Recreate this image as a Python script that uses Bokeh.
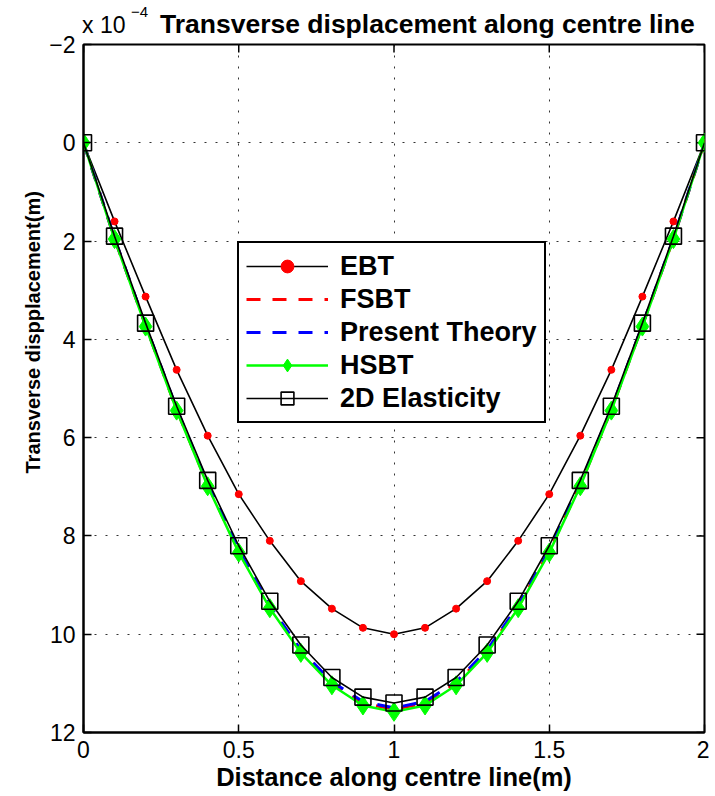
from bokeh.plotting import figure
from bokeh.models import (Range1d, FixedTicker, Legend, LegendItem, Title, Div)
from bokeh.layouts import column
from bokeh.embed import file_html
from bokeh.resources import INLINE
import math

x = [0.0, 0.1, 0.2, 0.3, 0.4, 0.5, 0.6, 0.7, 0.8, 0.9, 1.0,
     1.1, 1.2, 1.3, 1.4, 1.5, 1.6, 1.7, 1.8, 1.9, 2.0]
ebt = [0, 1.60, 3.13, 4.62, 5.96, 7.15, 8.10, 8.92, 9.48, 9.87, 10.00,
       9.87, 9.48, 8.92, 8.10, 7.15, 5.96, 4.62, 3.13, 1.60, 0]
fsbt = [0, 1.95, 3.72, 5.43, 6.96, 8.31, 9.44, 10.35, 11.00, 11.40, 11.53,
        11.40, 11.00, 10.35, 9.44, 8.31, 6.96, 5.43, 3.72, 1.95, 0]
present = [0, 1.94, 3.71, 5.41, 6.94, 8.29, 9.42, 10.32, 10.97, 11.37, 11.50,
           11.37, 10.97, 10.32, 9.42, 8.29, 6.94, 5.41, 3.71, 1.94, 0]
hsbt = [0, 1.96, 3.74, 5.45, 6.99, 8.34, 9.47, 10.38, 11.04, 11.45, 11.58,
        11.45, 11.04, 10.38, 9.47, 8.34, 6.99, 5.45, 3.74, 1.96, 0]
elast2d = [0, 1.90, 3.67, 5.36, 6.87, 8.20, 9.33, 10.22, 10.88, 11.28, 11.40,
           11.28, 10.88, 10.22, 9.33, 8.20, 6.87, 5.36, 3.67, 1.90, 0]

x_ticks = [0, 0.5, 1, 1.5, 2]
x_tick_labels = ["0", "0.5", "1", "1.5", "2"]
y_ticks = [-2, 0, 2, 4, 6, 8, 10, 12]
y_tick_labels = ["\u22122", "0", "2", "4", "6", "8", "10", "12"]

title_text = "Transverse displacement along centre line"
scale_text = "x 10"
scale_exp = "\u22124"
x_label = "Distance along centre line(m)"
y_label = "Transverse dispplacement(m)"
legend_labels = ["EBT", "FSBT", "Present Theory", "HSBT", "2D Elasticity"]

FONT = "Liberation Sans"
Y_MIN, Y_MAX = -2, 12
X_MIN, X_MAX = 0, 2

HEADER_H = 28
header = Div(
    text=(
        '<div style="position:relative;width:709px;height:' + str(HEADER_H) + 'px;overflow:visible;'
        'font-family:\'Liberation Sans\',Arial,sans-serif;color:black;white-space:nowrap;">'
        '<span style="position:absolute;left:82px;top:14px;font-size:23px;line-height:1;">'
        + scale_text + '</span>'
        '<span style="position:absolute;left:131px;top:4px;font-size:15px;line-height:1;">'
        + scale_exp + '</span>'
        '<span style="position:absolute;left:160px;top:11px;font-size:26.5px;font-weight:bold;line-height:1;">'
        + title_text + '</span></div>'
    ),
    width=709, height=HEADER_H, margin=0, styles={"overflow": "visible", "z-index": "2"})

p = figure(width=709, height=766, output_backend="svg", toolbar_location=None,
           x_range=Range1d(X_MIN, X_MAX), y_range=Range1d(Y_MAX, Y_MIN),
           min_border_left=83, min_border_top=16, min_border_right=5, min_border_bottom=62)
p.margin = 0
p.title = None
p.background_fill_color = "white"
p.border_fill_color = None
p.outline_line_color = "black"
p.outline_line_width = 2

for ax, ticks, labels in ((p.xaxis[0], x_ticks, x_tick_labels), (p.yaxis[0], y_ticks, y_tick_labels)):
    ax.ticker = FixedTicker(ticks=ticks)
    ax.major_label_overrides = {t: l for t, l in zip(ticks, labels)}
    ax.major_tick_in = 8
    ax.major_tick_out = 0
    ax.minor_tick_line_color = None
    ax.axis_line_color = "black"
    ax.axis_line_width = 2
    ax.major_tick_line_color = "black"
    ax.major_tick_line_width = 1.5
    ax.major_label_text_font = FONT
    ax.major_label_text_font_size = "23px"
    ax.major_label_text_color = "black"

p.xaxis[0].major_label_standoff = 8
p.yaxis[0].major_label_standoff = 8
p.xaxis[0].axis_label = x_label
p.xaxis[0].axis_label_text_font = FONT
p.xaxis[0].axis_label_text_font_style = "bold"
p.xaxis[0].axis_label_text_font_size = "25.5px"
p.xaxis[0].axis_label_text_color = "black"
p.xaxis[0].axis_label_standoff = 2

p.add_layout(Title(text=y_label, align="left", offset=259, text_font=FONT,
                   text_font_size="20px", text_font_style="bold", text_color="black",
                   standoff=6), "left")

# inward ticks on top and right edges
p.ray(x=x_ticks, y=[Y_MIN] * len(x_ticks), length=8, length_units="screen",
      angle=-math.pi / 2, line_color="black", line_width=1.5)
p.ray(x=[X_MAX] * len(y_ticks), y=y_ticks, length=8, length_units="screen",
      angle=math.pi, line_color="black", line_width=1.5)

p.xgrid.ticker = FixedTicker(ticks=x_ticks)
p.ygrid.ticker = FixedTicker(ticks=y_ticks)
p.grid.grid_line_color = "#333333"
p.grid.grid_line_dash = "2 9"
p.grid.grid_line_width = 1

r_ebt_l = p.line(x, ebt, line_color="black", line_width=1.6)
r_ebt_m = p.scatter(x, ebt, marker="circle", size=7, fill_color="red", line_color="red")
r_fsbt = p.line(x, fsbt, line_color="red", line_width=3, line_dash="14 12")
r_pres = p.line(x, present, line_color="blue", line_width=3, line_dash="14 12")
r_hsbt_l = p.line(x, hsbt, line_color="#00ff00", line_width=2.5)
r_hsbt_m = p.scatter(x, hsbt, marker="diamond", size=19, fill_color="#00ff00", line_color="#00ff00")
r_2d_l = p.line(x, elast2d, line_color="black", line_width=1.6)
r_2d_m = p.scatter(x, elast2d, marker="square", size=16, fill_color=None, line_color="black", line_width=1.6)

legend = Legend(items=[
    LegendItem(label=legend_labels[0], renderers=[r_ebt_l, r_ebt_m]),
    LegendItem(label=legend_labels[1], renderers=[r_fsbt]),
    LegendItem(label=legend_labels[2], renderers=[r_pres]),
    LegendItem(label=legend_labels[3], renderers=[r_hsbt_l, r_hsbt_m]),
    LegendItem(label=legend_labels[4], renderers=[r_2d_l, r_2d_m]),
], location=(154, 309))
legend.label_text_font = FONT
legend.label_text_font_style = "bold"
legend.label_text_font_size = "27px"
legend.label_text_color = "black"
legend.glyph_width = 82
legend.glyph_height = 32
legend.label_height = 32
legend.spacing = 1
legend.padding = 7
legend.margin = 0
legend.label_standoff = 12
legend.border_line_color = "black"
legend.border_line_alpha = 1
legend.border_line_width = 2.5
legend.background_fill_color = "white"
legend.background_fill_alpha = 1
p.add_layout(legend, "center")

layout = column(header, p, spacing=0, margin=0)
open("out.html", "w").write(file_html(layout, INLINE))
